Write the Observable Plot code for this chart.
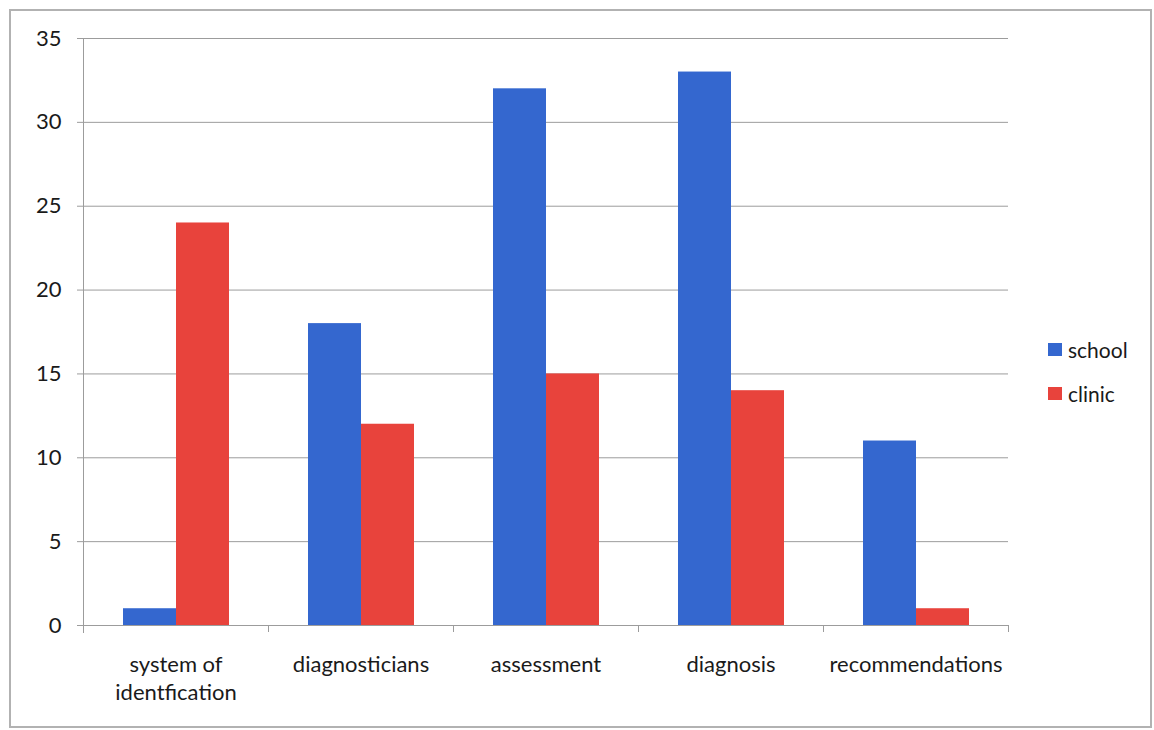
<!DOCTYPE html>
<html>
<head>
<meta charset="utf-8">
<script src="https://cdn.jsdelivr.net/npm/d3@7"></script>
<script src="https://cdn.jsdelivr.net/npm/@observablehq/plot@0.6"></script>
<style>
  body { margin: 0; background: #fff; }
  #wrap { position: relative; width: 1154px; height: 730px; overflow: hidden; font-family: Lato, "Open Sans", sans-serif; }
  #border { position: absolute; left: 9px; top: 9px; width: 1143px; height: 719px; border: 2px solid #b2b2b2; box-sizing: border-box; }
  #chart { position: absolute; left: 0; top: 0; }
  #legend { position: absolute; left: 1048px; top: 327px; }
  .item { display: flex; align-items: center; height: 44px; font-size: 21px; color: #1a1a1a; }
  .swatch { width: 14px; height: 13px; margin-right: 6px; }
</style>
</head>
<body>
<div id="wrap">
  <div id="border"></div>
  <div id="chart"></div>
  <div id="legend"></div>
</div>
<script>
// Survey responses by category, split by setting
const categories = ["system of\nidentfication", "diagnosticians", "assessment", "diagnosis", "recommendations"];
const series = ["school", "clinic"];
const school = [1, 18, 32, 33, 11];
const clinic = [24, 12, 15, 14, 1];
const colors = ["#3467cf", "#e8433c"];
const yTicks = [0, 5, 10, 15, 20, 25, 30, 35];

const values = {school, clinic};
const data = categories.flatMap((category, i) =>
  series.map(s => ({category, series: s, value: values[s][i]}))
);

const W = 1154, H = 730;
const mL = 83, mR = 146, mT = 38, mB = 105;
const facetW = (W - mL - mR) / categories.length;
const axisGray = "#9c9c9c";

const chart = Plot.plot({
  width: W,
  height: H,
  marginLeft: mL,
  marginRight: mR,
  marginTop: mT,
  marginBottom: mB,
  style: {fontFamily: "Lato, 'Open Sans', sans-serif", color: "#1a1a1a", background: "transparent"},
  fx: {domain: categories, padding: 0, label: null},
  x: {domain: series, paddingInner: 0, paddingOuter: 0.73, axis: null},
  y: {domain: [0, 35], label: null},
  color: {domain: series, range: colors},
  marks: [
    Plot.gridY(yTicks, {stroke: axisGray, strokeOpacity: 1}),
    Plot.axisY(yTicks, {tickSize: 6, tickPadding: 16, fontSize: 22, stroke: axisGray, fill: "#1a1a1a", label: null}),
    Plot.barY(data, {fx: "category", x: "series", y: "value", fill: "series"}),
    Plot.ruleY([0], {stroke: axisGray}),
    Plot.frame({anchor: "left", facetAnchor: "left", insetBottom: -7, stroke: axisGray}),
    Plot.axisFx({anchor: "bottom", tickSize: 0, tickPadding: 26, fontSize: 22, lineHeight: 1.3, fill: "#1a1a1a", label: null}),
    Plot.axisFx({anchor: "bottom", text: null, tickSize: 7, dx: -facetW / 2, stroke: axisGray, label: null}),
    Plot.axisFx({anchor: "bottom", ticks: [categories[categories.length - 1]], text: null, tickSize: 7, dx: facetW / 2, stroke: axisGray, label: null})
  ]
});
document.getElementById("chart").appendChild(chart);

// Legend on the right
const legend = document.getElementById("legend");
series.forEach((s, i) => {
  const item = document.createElement("div");
  item.className = "item";
  const sw = document.createElement("span");
  sw.className = "swatch";
  sw.style.background = colors[i];
  const label = document.createElement("span");
  label.textContent = s;
  item.append(sw, label);
  legend.appendChild(item);
});
</script>
</body>
</html>
